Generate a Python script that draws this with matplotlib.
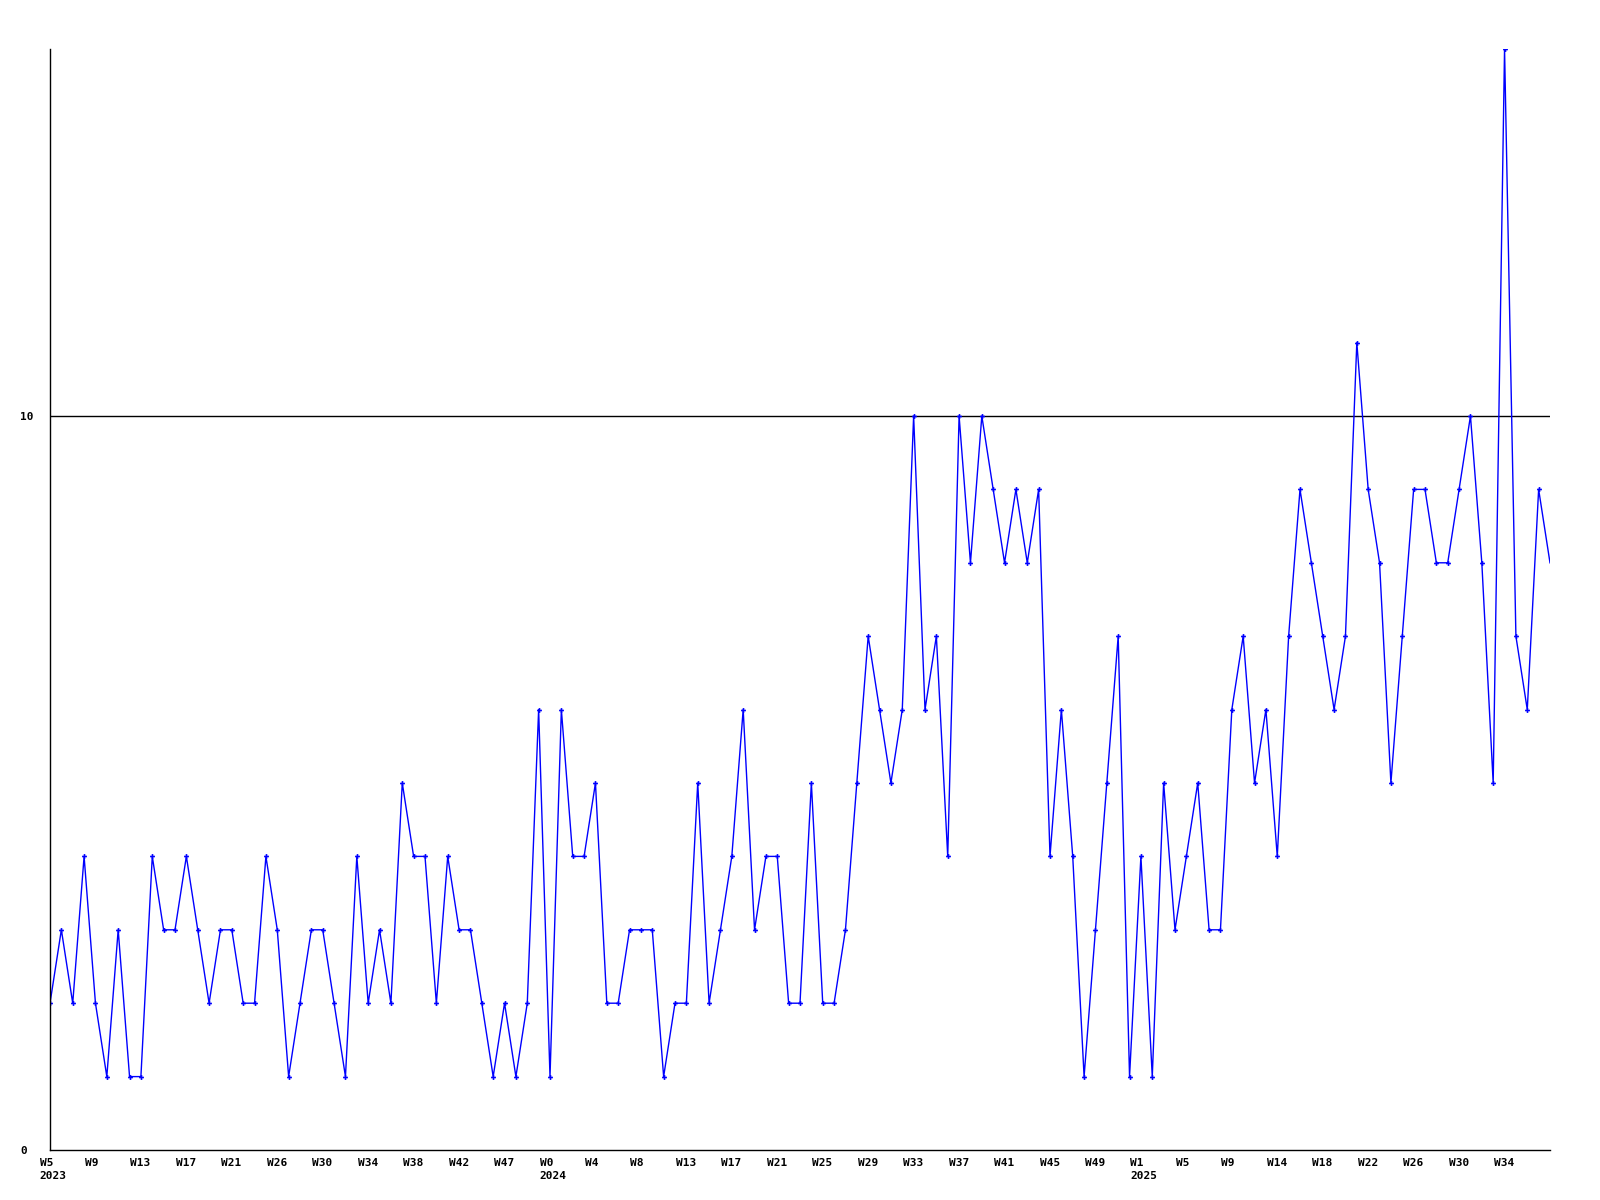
import matplotlib
matplotlib.use('Agg')
import matplotlib.pyplot as plt
import matplotlib.transforms as mtransforms

# weekly counts, one per week starting W5 2023
values = [2, 3, 2, 4, 2, 1, 3, 1, 1, 4,
          3, 3, 4, 3, 2, 3, 3, 2, 2, 4,
          3, 1, 2, 3, 3, 2, 1, 4, 2, 3,
          2, 5, 4, 4, 2, 4, 3, 3, 2, 1,
          2, 1, 2, 6, 1, 6, 4, 4, 5, 2,
          2, 3, 3, 3, 1, 2, 2, 5, 2, 3,
          4, 6, 3, 4, 4, 2, 2, 5, 2, 2,
          3, 5, 7, 6, 5, 6, 10, 6, 7, 4,
          10, 8, 10, 9, 8, 9, 8, 9, 4, 6,
          4, 1, 3, 5, 7, 1, 4, 1, 5, 3,
          4, 5, 3, 3, 6, 7, 5, 6, 4, 7,
          9, 8, 7, 6, 7, 11, 9, 8, 5, 7,
          9, 9, 8, 8, 9, 10, 8, 5, 15, 7,
          6, 9, 8]

week_labels = ['W5', 'W9', 'W13', 'W17', 'W21', 'W26', 'W30', 'W34', 'W38', 'W42', 'W47',
               'W0', 'W4', 'W8', 'W13', 'W17', 'W21', 'W25', 'W29', 'W33', 'W37', 'W41',
               'W45', 'W49', 'W1', 'W5', 'W9', 'W14', 'W18', 'W22', 'W26', 'W30', 'W34']
year_labels = {0: '2023', 11: '2024', 24: '2025'}
label_step = 4

y_ticks = [0, 10]


def main():
    fig = plt.figure(figsize=(16, 12), dpi=100)
    ax = fig.add_axes([50 / 1600, 1 - 1150 / 1200, 1500 / 1600, 1101 / 1200])

    xs = list(range(len(values)))
    ax.plot(xs, values, color='#0000ff', linewidth=1.0, marker='P',
            markersize=3.5, markeredgewidth=0, markevery=list(range(len(values) - 1)))

    ax.set_xlim(0, len(values) - 1)
    ax.set_ylim(0, 15)

    for side in ['top', 'right']:
        ax.spines[side].set_visible(False)
    for side in ['left', 'bottom']:
        ax.spines[side].set_color('black')
        ax.spines[side].set_linewidth(1.0)

    ax.axhline(10, color='black', linewidth=1.0, zorder=1)

    mono = dict(family='DejaVu Sans Mono', size=8, weight='bold')

    ax.set_yticks(y_ticks)
    ax.set_yticklabels([str(v) for v in y_ticks], **mono)
    for lab in ax.get_yticklabels():
        lab.set_horizontalalignment('left')
    ax.tick_params(axis='y', length=0, pad=21.6)

    # x labels drawn as text, left edge a little before each point
    ax.set_xticks([])
    base = mtransforms.blended_transform_factory(ax.transData, ax.transAxes)
    offset = mtransforms.ScaledTranslation(-10.5 / 100, -8 / 100, fig.dpi_scale_trans)
    for i, w in enumerate(week_labels):
        txt = w
        if i in year_labels:
            txt = w + '\n' + year_labels[i]
        ax.text(i * label_step, 0, txt, transform=base + offset, ha='left', va='top',
                linespacing=1.4, clip_on=False, **mono)

    fig.savefig('out.png', dpi=100, facecolor='white')


if __name__ == '__main__':
    main()
